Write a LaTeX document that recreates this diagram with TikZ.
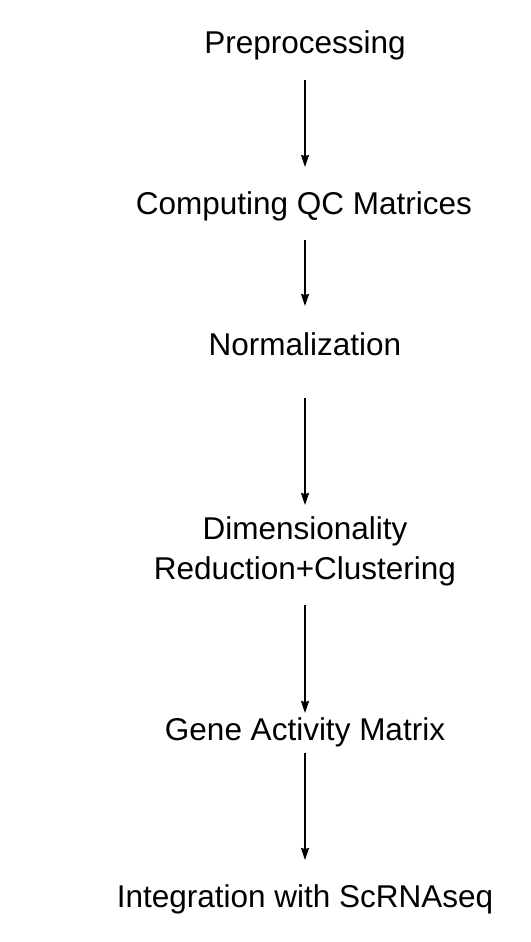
\documentclass[tikz,border=0pt]{standalone}
\usepackage{fontspec}
\setmainfont{Liberation Sans}
\usetikzlibrary{arrows.meta}
\tikzset{
  stage/.style={font=\fontsize{31.5}{40}\selectfont, align=center, inner sep=0pt},
  flow/.style={-{Stealth[length=12pt,width=8pt,inset=1pt]}, line width=1.3pt}
}
\begin{document}
\begin{tikzpicture}[x=1pt,y=-1pt]
        \useasboundingbox (0,0) rectangle (530,942);
        \node[stage] (pre) at (305,45) {Preprocessing};
        \node[stage] (qc) at (304,206) {Computing QC Matrices};
        \node[stage] (norm) at (305,344) {Normalization};
        \node[stage] (dim) at (305,551) {Dimensionality\\Reduction+Clustering};
        \node[stage] (gene) at (305,732) {Gene Activity Matrix};
        \node[stage] (integ) at (305,899) {Integration with ScRNAseq};
        \draw[flow] ([yshift=-35]pre.center) -- ([xshift=1,yshift=39]qc.center);
        \draw[flow] ([xshift=1,yshift=-34]qc.center) -- ([yshift=38]norm.center);
        \draw[flow] ([yshift=-54]norm.center) -- ([yshift=46]dim.center);
        \draw[flow] ([yshift=-54]dim.center) -- ([yshift=19]gene.center);
        \draw[flow] ([yshift=-21]gene.center) -- ([yshift=39]integ.center);
    \end{tikzpicture}
\end{document}
